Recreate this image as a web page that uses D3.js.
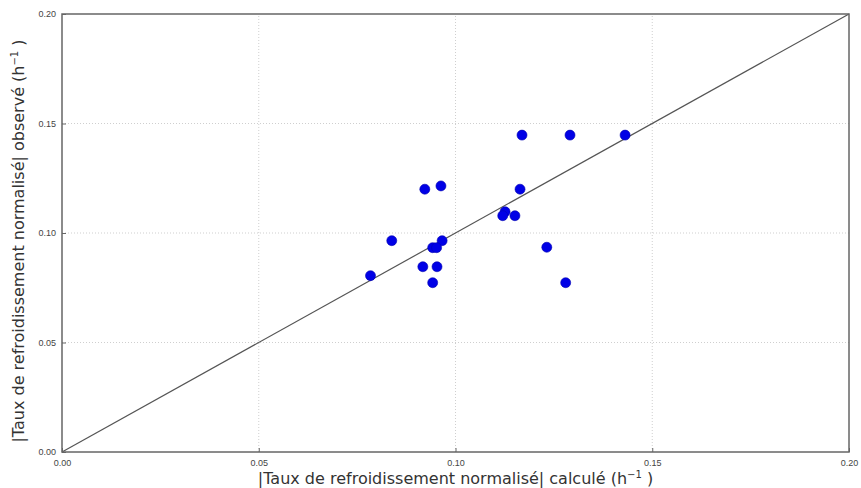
<!DOCTYPE html>
<html>
<head>
<meta charset="utf-8">
<script src="https://cdn.jsdelivr.net/npm/d3@7"></script>
<style>
  body { margin: 0; background: #fff; }
  svg { display: block; font-family: "DejaVu Sans", sans-serif; }
</style>
</head>
<body>
<div id="chart"></div>
<script>
// calculated |normalised cooling rate| (h^-1)
const calcule = [0.1169, 0.1291, 0.1431, 0.0922, 0.0963, 0.1164, 0.1126, 0.1120, 0.1151,
                 0.0838, 0.0966, 0.0942, 0.0952, 0.1232, 0.0917, 0.0953, 0.0784, 0.0942, 0.1280];
// observed |normalised cooling rate| (h^-1)
const observe = [0.1447, 0.1447, 0.1447, 0.1200, 0.1215, 0.1200, 0.1097, 0.1079, 0.1079,
                 0.0965, 0.0965, 0.0933, 0.0933, 0.0935, 0.0846, 0.0846, 0.0805, 0.0773, 0.0773];
const ticks = [0, 0.05, 0.10, 0.15, 0.20];

const width = 861, height = 488;
const margin = {top: 14, right: 12, bottom: 36, left: 62};

const svg = d3.select('#chart').append('svg')
    .attr('width', width)
    .attr('height', height);

const x = d3.scaleLinear().domain([0, 0.2]).range([margin.left, width - margin.right]);
const y = d3.scaleLinear().domain([0, 0.2]).range([height - margin.bottom, margin.top]);

// grid
svg.append('g').selectAll('line.gx')
    .data(ticks.slice(1, -1))
    .enter().append('line')
    .attr('x1', d => x(d)).attr('x2', d => x(d))
    .attr('y1', y(0)).attr('y2', y(0.2))
    .attr('stroke', '#cfcfcf').attr('stroke-dasharray', '1,2');
svg.append('g').selectAll('line.gy')
    .data(ticks.slice(1, -1))
    .enter().append('line')
    .attr('y1', d => y(d)).attr('y2', d => y(d))
    .attr('x1', x(0)).attr('x2', x(0.2))
    .attr('stroke', '#cfcfcf').attr('stroke-dasharray', '1,2');

// 1:1 line
svg.append('line')
    .attr('x1', x(0)).attr('y1', y(0))
    .attr('x2', x(0.2)).attr('y2', y(0.2))
    .attr('stroke', '#555').attr('stroke-width', 1.2);

// points
const pts = calcule.map((c, i) => ({c: c, o: observe[i]}));
svg.append('g').selectAll('circle')
    .data(pts)
    .enter().append('circle')
    .attr('cx', d => x(d.c))
    .attr('cy', d => y(d.o))
    .attr('r', 5)
    .attr('fill', '#0000e6')
    .attr('stroke', '#0000b0')
    .attr('stroke-width', 0.6);

// axes
const xAxis = svg.append('g')
    .attr('transform', `translate(0,${y(0)})`)
    .call(d3.axisBottom(x).tickValues(ticks).tickFormat(d3.format('.2f')).tickSizeInner(-4).tickSizeOuter(0).tickPadding(8));
const yAxis = svg.append('g')
    .attr('transform', `translate(${x(0)},0)`)
    .call(d3.axisLeft(y).tickValues(ticks).tickFormat(d3.format('.2f')).tickSizeInner(-4).tickSizeOuter(0).tickPadding(6));
[xAxis, yAxis].forEach(a => {
  a.select('.domain').remove();
  a.selectAll('line').attr('stroke', '#666');
  a.selectAll('text').attr('fill', '#444').style('font-size', '9px');
});

// frame
svg.append('rect')
    .attr('x', x(0)).attr('y', y(0.2))
    .attr('width', x(0.2) - x(0)).attr('height', y(0) - y(0.2))
    .attr('fill', 'none').attr('stroke', '#666').attr('stroke-width', 1.5);

// axis labels
const xl = svg.append('text')
    .attr('x', (x(0) + x(0.2)) / 2).attr('y', 484)
    .attr('text-anchor', 'middle')
    .attr('fill', '#333')
    .style('font-size', '16px');
xl.append('tspan').text('|Taux de refroidissement normalisé| calculé (h');
xl.append('tspan').attr('dy', -6).style('font-size', '10px').text('−1');
xl.append('tspan').attr('dy', 6).text(' )');

const yl = svg.append('text')
    .attr('transform', `translate(24,${(y(0) + y(0.2)) / 2 + 8}) rotate(-90)`)
    .attr('text-anchor', 'middle')
    .attr('fill', '#333')
    .style('font-size', '16px');
yl.append('tspan').text('|Taux de refroidissement normalisé| observé (h');
yl.append('tspan').attr('dy', -6).style('font-size', '10px').text('−1');
yl.append('tspan').attr('dy', 6).text(' )');
</script>
</body>
</html>
